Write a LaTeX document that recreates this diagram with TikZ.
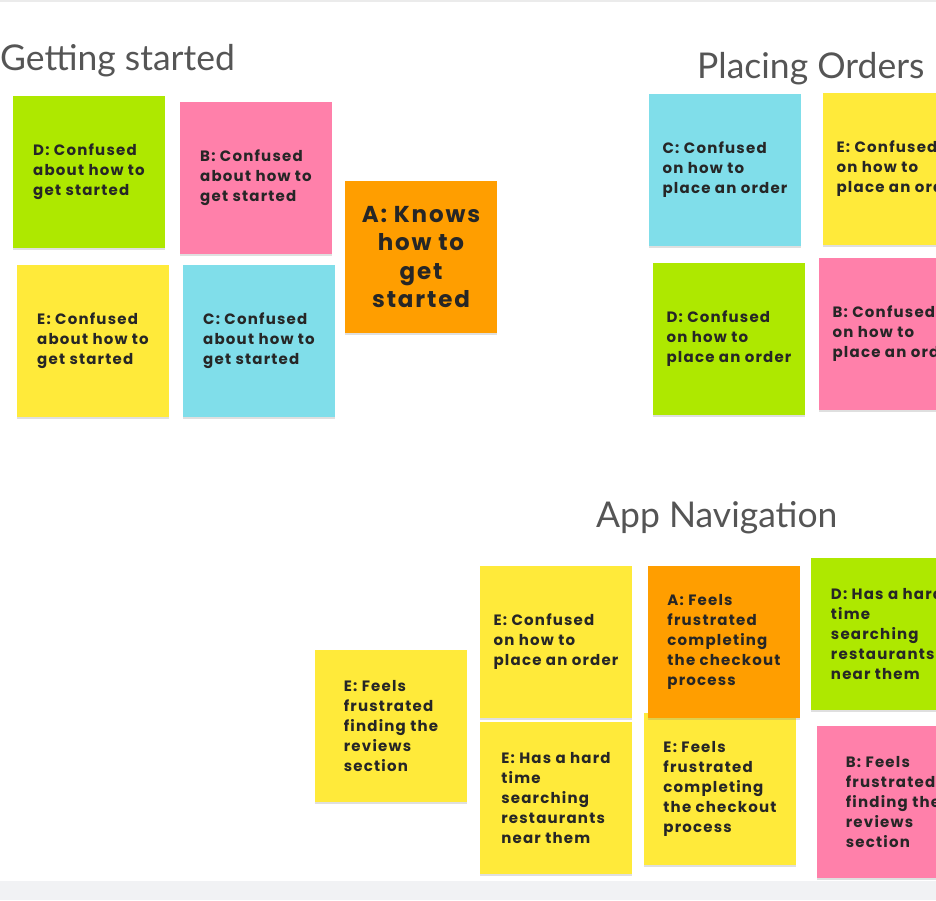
\documentclass[tikz,border=0pt]{standalone}
\usepackage{fontspec}
\setmainfont{Poppins}
\newfontfamily\notefont[LetterSpace=8]{Poppins}
\newfontfamily\headfont{Lato}
\usetikzlibrary{shadows}
\definecolor{notegreen}{RGB}{174,232,0}
\definecolor{notepink}{RGB}{255,128,170}
\definecolor{noteorange}{RGB}{255,158,0}
\definecolor{noteyellow}{RGB}{255,234,58}
\definecolor{notecyan}{RGB}{128,222,234}
\definecolor{headgray}{RGB}{85,85,85}
\definecolor{bandgray}{RGB}{241,242,244}
\tikzstyle{sticky}=[rectangle,minimum size=152pt,inner sep=0pt,align=left,text=black!85,font=\notefont\bfseries\fontsize{15}{20}\selectfont,drop shadow={shadow xshift=0pt,shadow yshift=-2pt,opacity=0.25}]
\tikzstyle{bigsticky}=[sticky,align=center,font=\notefont\bfseries\fontsize{23}{28.5}\selectfont]
\tikzstyle{heading}=[anchor=base west,inner sep=0pt,text=headgray,font=\headfont\fontsize{35.5}{40}\selectfont]

\begin{document}
\begin{tikzpicture}[x=1pt,y=-1pt]

  \useasboundingbox (0,0) rectangle (936,900);
  \clip (0,0) rectangle (936,900);

  % page edges
  \fill[black!8] (0,0) rectangle (936,2);
  \fill[bandgray] (0,881) rectangle (936,900);

% Getting started
  \node[heading] (gstitle) at (0,70) {Getting started};
  \foreach \pos/\name/\col/\txt in {{(89,172)/gsD/notegreen/{D: Confused\\about how to\\get started}},
      {(256,178)/gsB/notepink/{B: Confused\\about how to\\get started}},
      {(93,341)/gsE/noteyellow/{E: Confused\\about how to\\get started}},
      {(259,341)/gsC/notecyan/{C: Confused\\about how to\\get started}}}
    \node[sticky,fill=\col] (\name) at \pos {\txt};
  \node[bigsticky,fill=noteorange] (gsA) at (421,257) {A: Knows\\how to\\get\\started};

% Placing Orders
  \node[heading] (potitle) at (697,78) {Placing Orders};
  \foreach \pos/\name/\col/\txt in {{(725,170)/poC/notecyan/{C: Confused\\on how to\\place an order}},
      {(899,169)/poE/noteyellow/{E: Confused\\on how to\\place an order}},
      {(729,339)/poD/notegreen/{D: Confused\\on how to\\place an order}},
      {(895,334)/poB/notepink/{B: Confused\\on how to\\place an order}}}
    \node[sticky,fill=\col] (\name) at \pos {\txt};

% App Navigation
  \node[heading] (antitle) at (596,527) {App Navigation};
  \foreach \pos/\name/\col/\txt in {{(391,726)/anEf/noteyellow/{E: Feels\\frustrated\\finding the\\reviews\\section}},
      {(556,798)/anEh/noteyellow/{E: Has a hard\\time\\searching\\restaurants\\near them}},
      {(556,642)/anEc/noteyellow/{E: Confused\\on how to\\place an order}},
      {(720,789)/anEp/noteyellow/{E: Feels\\frustrated\\completing\\the checkout\\process}},
      {(724,642)/anA/noteorange/{A: Feels\\frustrated\\completing\\the checkout\\process}},
      {(887,634)/anD/notegreen/{D: Has a hard\\time\\searching\\restaurants\\near them}},
      {(893,802)/anB/notepink/{B: Feels\\frustrated\\finding the\\reviews\\section}}}
    \node[sticky,fill=\col] (\name) at \pos {\txt};

\end{tikzpicture}
\end{document}
